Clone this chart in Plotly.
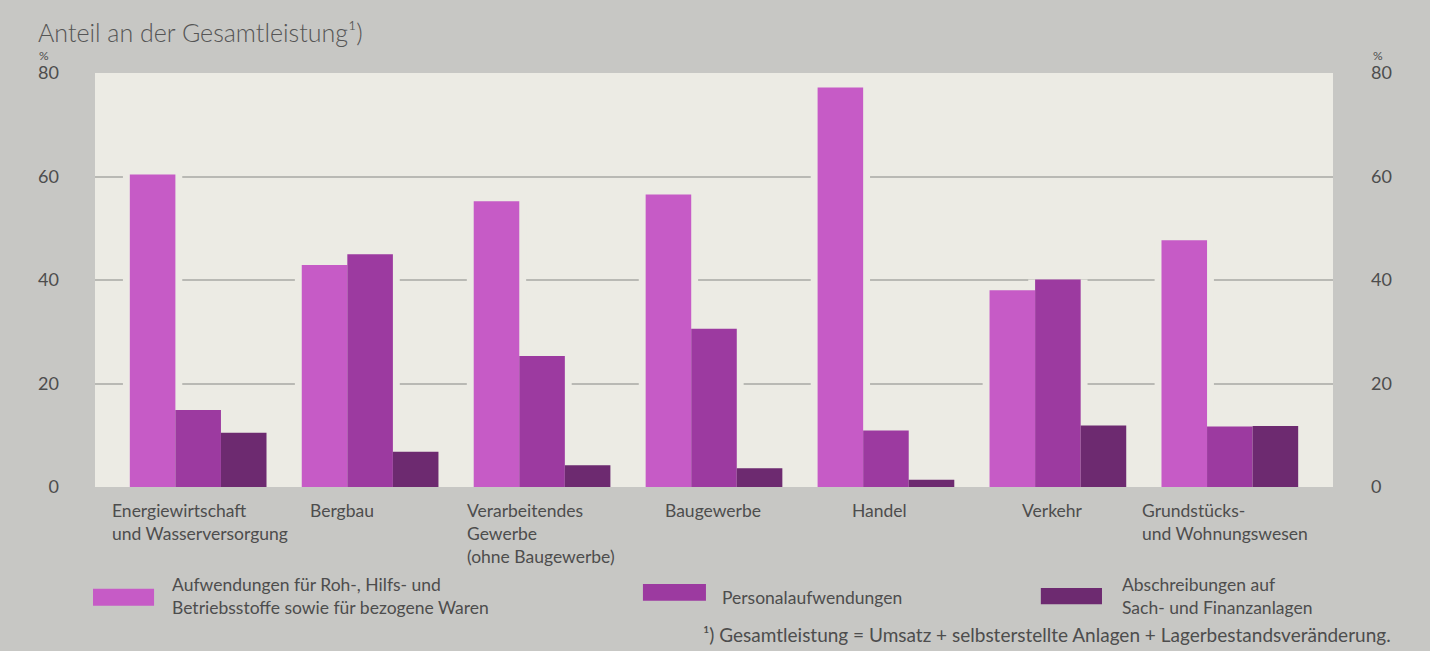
import plotly.graph_objects as go

categories = [["Energiewirtschaft", "und Wasserversorgung"], ["Bergbau"],
              ["Verarbeitendes", "Gewerbe", "(ohne Baugewerbe)"], ["Baugewerbe"],
              ["Handel"], ["Verkehr"], ["Grundstücks-", "und Wohnungswesen"]]
cat_keys = ["Energie", "Bergbau", "Verarbeitendes", "Baugewerbe", "Handel", "Verkehr", "Grundstuecke"]

aufwendungen = [60.4, 42.9, 55.2, 56.5, 77.2, 38.0, 47.7]
personal = [14.9, 45.0, 25.3, 30.6, 10.9, 40.1, 11.7]
abschreibungen = [10.5, 6.8, 4.2, 3.6, 1.4, 11.9, 11.8]

series_names = [["Aufwendungen für Roh-, Hilfs- und", "Betriebsstoffe sowie für bezogene Waren"],
                ["Personalaufwendungen"],
                ["Abschreibungen auf", "Sach- und Finanzanlagen"]]
colors = ["#c65bc6", "#9c3aa0", "#6d2a70"]
y_ticks = [0, 20, 40, 60, 80]

# layout-only helpers (label placement)
label_dx = [-0.512, -0.36, -0.448, -0.297, -0.209, -0.221, -0.523]

PLOT_BG = "#ecebe4"
PAPER_BG = "#c7c7c4"
TEXT = "#4d4d4d"
FONT = "Lato"
FS = 17.5

bar_w = 0.265
halo_w = bar_w + 0.08
offsets = [-1.5 * bar_w, -0.5 * bar_w, 0.5 * bar_w]

fig = go.Figure()
all_series = [aufwendungen, personal, abschreibungen]
xs = list(range(len(cat_keys)))

# background-coloured halos that interrupt the gridlines next to each bar
for vals, off in zip(all_series, offsets):
    fig.add_trace(go.Bar(x=xs, y=vals, width=halo_w, offset=off - 0.04,
                         marker=dict(color=PLOT_BG, line=dict(width=0)),
                         showlegend=False, hoverinfo="skip", xaxis="x", yaxis="y"))

for vals, off, col, name in zip(all_series, offsets, colors, series_names):
    fig.add_trace(go.Bar(x=xs, y=vals, width=bar_w, offset=off,
                         name=" ".join(name), customdata=[" ".join(c) for c in categories],
                         hovertemplate="%{customdata}: %{y}<extra>%{fullData.name}</extra>",
                         marker=dict(color=col, line=dict(width=0)),
                         showlegend=False, xaxis="x", yaxis="y2"))

fig.update_layout(
    width=1430, height=651,
    margin=dict(l=95, r=97, t=73, b=164),
    paper_bgcolor=PAPER_BG, plot_bgcolor=PLOT_BG,
    barmode="overlay",
    font=dict(family=FONT, size=FS, color=TEXT),
    title=dict(text="Anteil an der Gesamtleistung¹)", x=0.0266, xanchor="left",
               y=0.949, yanchor="middle",
               font=dict(family=FONT, size=25, color="#555555", weight=300)),
    xaxis=dict(range=[-0.6, 6.6], showticklabels=False, showgrid=False,
               zeroline=False, showline=False, ticks=""),
    yaxis=dict(range=[0, 80], tickvals=y_ticks, ticktext=[str(v) for v in y_ticks],
               showgrid=False, zeroline=False, showline=False, ticks="",
               ticklabelstandoff=35, tickfont=dict(size=18, color=TEXT),
               minor=dict(tickvals=[20, 40, 60], showgrid=True, gridcolor="#b9b9b4", gridwidth=2, ticks="")),
    yaxis2=dict(range=[0, 80], overlaying="y", side="right", tickvals=y_ticks,
                ticktext=[str(v) for v in y_ticks], showgrid=False, zeroline=False,
                showline=False, ticks="", ticklabelstandoff=37, tickfont=dict(size=18, color=TEXT)),
    showlegend=False,
)

# category labels: left-aligned multi-line text under each group
for i, (lines, dx) in enumerate(zip(categories, label_dx)):
    fig.add_annotation(x=i + dx, xref="x", y=-0.027, yref="paper", text="<br>".join(lines),
                       showarrow=False, xanchor="left", yanchor="top", align="left",
                       font=dict(family=FONT, size=FS, color=TEXT))

# % unit labels
for xp in (-0.041, 1.036):
    fig.add_annotation(x=xp, y=1.042, xref="paper", yref="paper", text="%", showarrow=False,
                       font=dict(family=FONT, size=12, color=TEXT), xanchor="center", yanchor="middle")

# legend (manual, wide swatches)
legend_items = [
    (-0.0016, 0.0477, -0.246, -0.287, 0.0606, -0.264),
    (0.4426, 0.4935, -0.234, -0.275, 0.5048, -0.266),
    (0.764, 0.8134, -0.244, -0.283, 0.828, -0.263),
]
for (x0, x1, y0, y1, tx, ty), col, name in zip(legend_items, colors, series_names):
    fig.add_shape(type="rect", xref="paper", yref="paper", x0=x0, x1=x1, y0=y1, y1=y0,
                  fillcolor=col, line=dict(width=0))
    fig.add_annotation(x=tx, y=ty, xref="paper", yref="paper", text="<br>".join(name), showarrow=False,
                       xanchor="left", yanchor="middle", align="left",
                       font=dict(family=FONT, size=FS, color=TEXT))

# footnote
fig.add_annotation(x=1.0485, y=-0.357, xref="paper", yref="paper",
                   text="¹) Gesamtleistung = Umsatz + selbsterstellte Anlagen + Lagerbestandsveränderung.",
                   showarrow=False, xanchor="right", yanchor="middle",
                   font=dict(family=FONT, size=19, color=TEXT))

fig.write_html("out.html", config={"displayModeBar": False},
               post_script="document.body.style.margin='0';document.body.style.overflow='hidden';")
